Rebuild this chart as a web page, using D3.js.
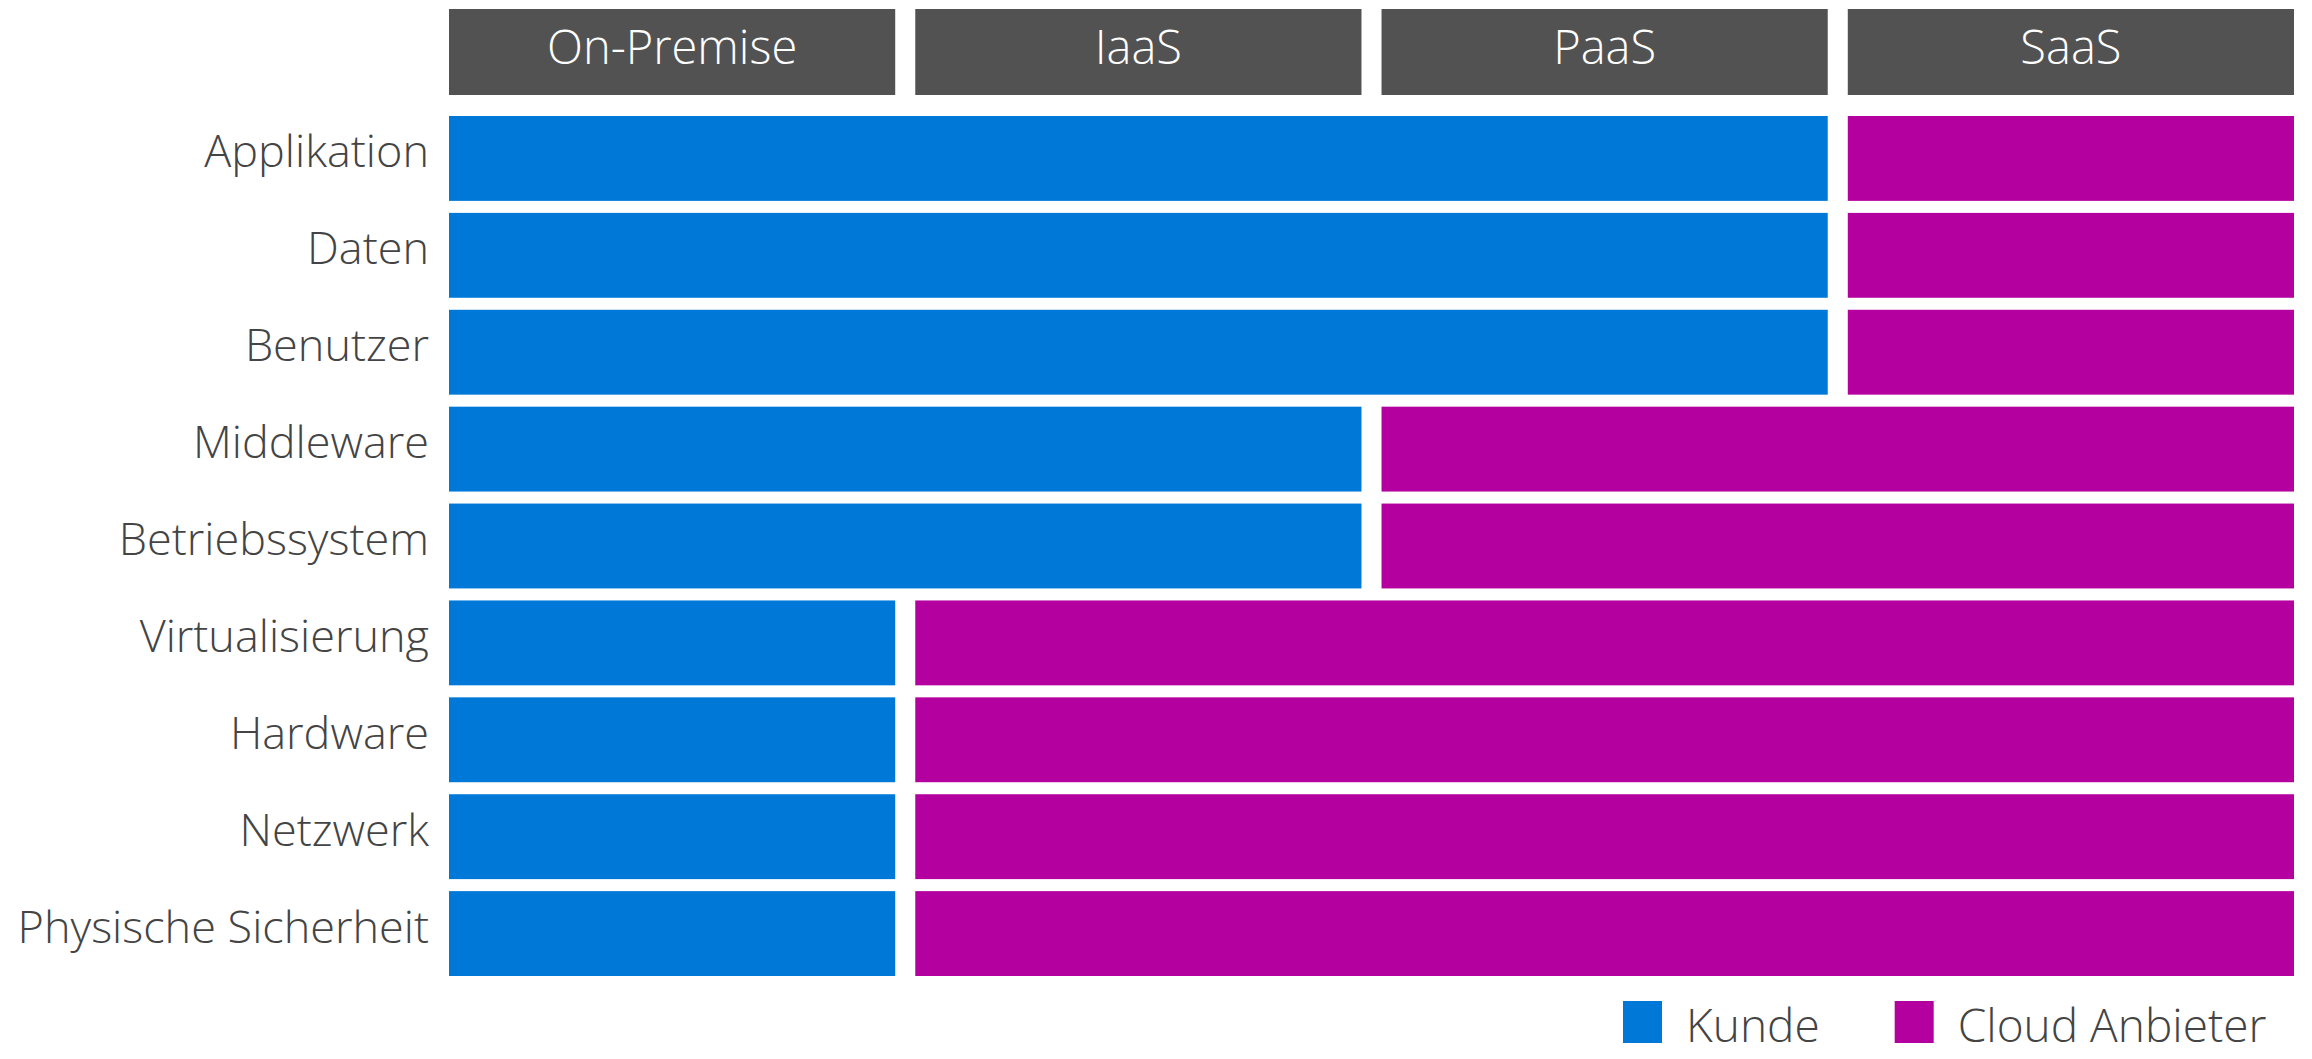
<!DOCTYPE html>
<html>
  <head>
    <meta charset="utf-8">
    <title>Verantwortung Cloud Modelle</title>
    <script src="https://d3js.org/d3.v7.min.js"></script>
    <style>
      body { margin: 0; background: #fff; }
      svg text {
        font-family: "Segoe UI Light", "Open Sans", sans-serif;
        font-weight: 300;
      }
      .header text { fill: #fff; font-size: 47px; }
      .layer-label { fill: #444; font-size: 45px; }
      .legend text { fill: #444; font-size: 46px; }
    </style>
  </head>
  <body>
    <svg width="2312" height="1059"></svg>
    <script>
      const models = ["On-Premise", "IaaS", "PaaS", "SaaS"];
      const layers = ["Applikation", "Daten", "Benutzer", "Middleware", "Betriebssystem",
                      "Virtualisierung", "Hardware", "Netzwerk", "Physische Sicherheit"];
      // how many of the models (from the left) the customer still manages this layer in
      const customerModels = [3, 3, 3, 2, 2, 1, 1, 1, 1];
      const owners = ["Kunde", "Cloud Anbieter"];

      const colors = d3.scaleOrdinal().domain(owners).range(["#0078d7", "#b4009e"]);

      const svg = d3.select("svg");

      const x = d3.scaleBand()
        .domain(models)
        .range([449, 2294])
        .paddingInner(0.043);

      const y = d3.scaleBand()
        .domain(layers)
        .range([116, 976])
        .paddingInner(0.124);

      // column headers
      const headerG = svg.append("g").attr("class", "header");
      const headers = headerG.selectAll("g")
        .data(models)
        .enter().append("g")
          .attr("transform", d => `translate(${x(d)}, 9)`);
      headers.append("rect")
        .attr("width", x.bandwidth())
        .attr("height", 86)
        .attr("fill", "#525252");
      headers.append("text")
        .attr("x", x.bandwidth() / 2)
        .attr("y", 55)
        .attr("text-anchor", "middle")
        .text(d => d);

      // split each layer into customer part and provider part
      const segments = [];
      layers.forEach((layer, i) => {
        const k = customerModels[i];
        segments.push({ layer, owner: owners[0], from: models[0], to: models[k - 1] });
        if (k < models.length) {
          segments.push({ layer, owner: owners[1], from: models[k], to: models[models.length - 1] });
        }
      });

      svg.append("g").selectAll("rect")
        .data(segments)
        .enter().append("rect")
          .attr("x", d => x(d.from))
          .attr("y", d => y(d.layer))
          .attr("width", d => x(d.to) + x.bandwidth() - x(d.from))
          .attr("height", y.bandwidth())
          .attr("fill", d => colors(d.owner));

      svg.append("g").selectAll("text")
        .data(layers)
        .enter().append("text")
          .attr("class", "layer-label")
          .attr("x", 429)
          .attr("y", d => y(d) + y.bandwidth() / 2 + 9)
          .attr("text-anchor", "end")
          .text(d => d);

      // legend
      const legendG = svg.append("g").attr("class", "legend");
      let lx = 1623;
      owners.forEach(o => {
        legendG.append("rect")
          .attr("x", lx)
          .attr("y", 1001)
          .attr("width", 39)
          .attr("height", 42)
          .attr("fill", colors(o));
        const t = legendG.append("text")
          .attr("x", lx + 63)
          .attr("y", 1042)
          .text(o);
        lx += 63 + t.node().getComputedTextLength() + 75;
      });
    </script>
  </body>
</html>
